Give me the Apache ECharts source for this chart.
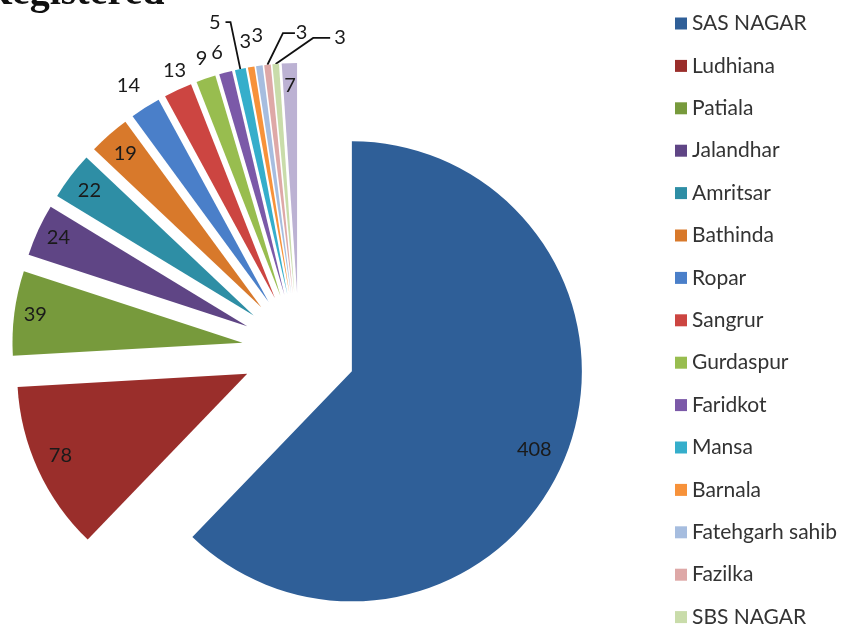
<!DOCTYPE html>
<html><head><meta charset="utf-8">
<script src="https://cdn.jsdelivr.net/npm/echarts@6/dist/echarts.min.js"></script>
<style>html,body{margin:0;padding:0;background:#fff}#c{width:857px;height:629px}</style>
</head><body><div id="c"></div>
<script>
// ---- data ----
const districts = ['SAS NAGAR','Ludhiana','Patiala','Jalandhar','Amritsar','Bathinda','Ropar','Sangrur','Gurdaspur','Faridkot','Mansa','Barnala','Fatehgarh sahib','Fazilka','SBS NAGAR','Others'];
const counts = [408,78,39,24,22,19,14,13,9,6,5,3,3,3,3,7];
const legendNames = districts.slice(0, 15);
// ---- styling ----
const colors = ['#2f5f98','#9a2e2b','#779a3c','#5f4585','#2e8ea5','#d8792b','#4a7fc9','#cc4541','#98bd4f','#7b59a8','#35aecb','#f7923a','#a6bddf','#dea8a7','#c9dcaa','#bcb2d3'];
const labelLen  = [-19.4,-33.3,-15,-19,-24.6,-24.4,25.7,20.8,20.8,20.2,48,25.4,30.1,31.9,26,-21.9];
const labelLen2 = [-35.3,-8.5,-22.7,-19.5,-15.7,-16.7,-13.5,-22.1,-13.3,-7.5,5,-9.1,-13.1,-31,-56.7,-10.8];
const showLine  = [0,0,0,0,0,0,0,0,0,0,1,0,0,1,1,0];
const padRight  = [0,0,0,0,0,0,0,0,0,0,0,0,0,-17.5,-20.5,0];
// leader-line bends (relative to the line start) for the two labels pulled to the right
const bend = { 13: [[15.5,-31.7],[27.5,-31.7]], 14: [[37.5,-26],[54.5,-26]] };

const chart = echarts.init(document.getElementById('c'));
chart.setOption({
  animation: false,
  backgroundColor: '#fff',
  title: {
    text: 'Registered', left: -22, top: -31,
    textStyle: { fontFamily: 'Liberation Serif', fontWeight: 'bold', fontSize: 40, color: '#111' }
  },
  legend: {
    orient: 'vertical', left: 675, top: 13, bottom: -60, padding: 0,
    itemWidth: 12, itemHeight: 12, itemGap: 21.4, icon: 'rect',
    selectedMode: false,
    textStyle: { fontFamily: 'Lato', fontSize: 21, color: '#333' },
    data: legendNames
  },
  series: [{
    type: 'pie',
    center: [299, 350],
    radius: 230,
    startAngle: 90,
    clockwise: true,
    selectedMode: 'multiple',
    selectedOffset: 57,
    avoidLabelOverlap: false,
    itemStyle: { borderWidth: 0 },
    select: { itemStyle: { borderWidth: 0 } },
    emphasis: { disabled: true },
    label: {
      show: true, position: 'outside', formatter: '{c}',
      color: '#1a1a1a', fontFamily: 'Lato', fontSize: 20, distanceToLabelLine: 5
    },
    labelLine: { show: false, lineStyle: { color: '#111', width: 1.8 } },
    labelLayout: function (p) {
      const b = bend[p.dataIndex];
      if (!b || !p.labelLinePoints) return {};
      const s = p.labelLinePoints[0];
      return { labelLinePoints: [[s[0], s[1]], [s[0] + b[0][0], s[1] + b[0][1]], [s[0] + b[1][0], s[1] + b[1][1]]] };
    },
    data: counts.map((v, i) => ({
      name: districts[i], value: v, selected: true,
      itemStyle: { color: colors[i] },
      label: { padding: [0, padRight[i], 0, 0] },
      labelLine: { show: !!showLine[i], length: labelLen[i], length2: labelLen2[i] }
    }))
  }]
});
</script></body></html>
